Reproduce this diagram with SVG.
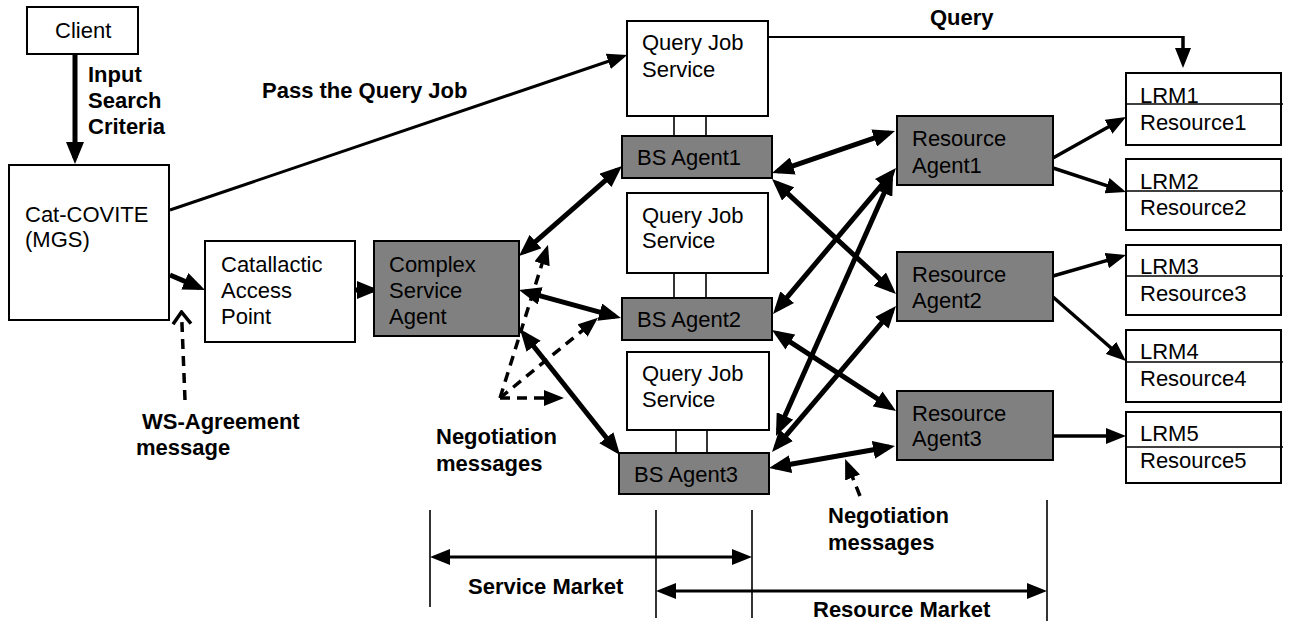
<svg xmlns="http://www.w3.org/2000/svg" width="1297" height="621" viewBox="0 0 1297 621">
<style>
.box{fill:#fff;stroke:#000;stroke-width:2}
.agent{fill:#808080;stroke:#000;stroke-width:2}
.t{font-family:"Liberation Sans",Arial,sans-serif;font-size:22px;fill:#000}
.b{font-family:"Liberation Sans",Arial,sans-serif;font-size:22px;font-weight:bold;fill:#000}
.thin{stroke:#000;stroke-width:1.6;fill:none}
.thick{stroke:#000;stroke-width:5;fill:none;marker-end:url(#big)}
.dbl{stroke:#000;stroke-width:5;fill:none;marker-start:url(#big);marker-end:url(#big)}
.med{stroke:#000;stroke-width:3.5;fill:none;marker-end:url(#med)}
.dash{stroke:#000;stroke-width:3.5;fill:none;stroke-dasharray:10 7;marker-end:url(#med)}
.mkt{stroke:#000;stroke-width:3;fill:none;marker-start:url(#med)}
.mkt2{stroke:#000;stroke-width:3;fill:none;marker-start:url(#med);marker-end:url(#med)}
</style>
<defs>
<marker id="big" markerUnits="userSpaceOnUse" markerWidth="22" markerHeight="18" refX="16" refY="9" orient="auto-start-reverse" viewBox="0 0 22 18"><path d="M0,0 L22,9 L0,18 z" fill="#000"/></marker>
<marker id="med" markerUnits="userSpaceOnUse" markerWidth="20" markerHeight="16" refX="15" refY="8" orient="auto-start-reverse" viewBox="0 0 20 16"><path d="M0,0 L20,8 L0,16 z" fill="#000"/></marker>
<marker id="open" markerUnits="userSpaceOnUse" markerWidth="16" markerHeight="22" refX="14" refY="11" orient="auto" viewBox="0 0 16 22"><path d="M2,2 L14,11 L2,20" fill="none" stroke="#000" stroke-width="3.5"/></marker>
</defs>

<g id="connectors">
<line class="thick" x1="75" y1="54" x2="75" y2="158"/>
<line class="med" x1="170" y1="210" x2="622.5" y2="56.5" style="stroke-width:3"/>
<line class="thick" x1="170" y1="275" x2="199.5" y2="287.6"/>
<line class="thick" x1="355" y1="290" x2="373" y2="290"/>
<polyline class="thin" points="768,37 1183,37" style="stroke-width:2"/>
<line class="med" x1="1183" y1="36" x2="1183" y2="63"/>
<line stroke="#000" stroke-width="3.5" stroke-dasharray="10 7" x1="185" y1="400" x2="181.5" y2="312" marker-end="url(#open)"/>
<line class="dbl" x1="523.5" y1="252.1" x2="617.5" y2="169.9"/>
<line class="dbl" x1="524.8" y1="291.6" x2="615.2" y2="316.4"/>
<line class="dbl" x1="523.7" y1="333.7" x2="616.3" y2="450.3"/>
<line class="dash" x1="500" y1="398" x2="546.5" y2="249.5"/>
<line class="dash" x1="500" y1="398" x2="594.1" y2="321"/>
<line class="dash" x1="500" y1="398" x2="559" y2="398"/>
<line class="dbl" x1="777.7" y1="171.1" x2="889.3" y2="132.9"/>
<line class="dbl" x1="776.4" y1="183.1" x2="891.6" y2="289.9"/>
<line class="dbl" x1="892.1" y1="172.6" x2="776.9" y2="309.4"/>
<line class="dbl" x1="890.6" y1="178.5" x2="778.4" y2="430.5"/>
<line class="dbl" x1="892.1" y1="310.6" x2="775.9" y2="447.4"/>
<line class="dbl" x1="777" y1="333.3" x2="891" y2="407.7"/>
<line class="dbl" x1="774.9" y1="467" x2="889.1" y2="447"/>
<line class="dash" x1="860" y1="496" x2="847" y2="463.6"/>
<line class="med" x1="1053" y1="158" x2="1121.6" y2="119.5"/>
<line class="med" x1="1053" y1="168" x2="1121.2" y2="190.4"/>
<line class="med" x1="1053" y1="276" x2="1121.2" y2="256.4"/>
<line class="med" x1="1053" y1="297" x2="1122.2" y2="357.7"/>
<line class="med" x1="1053" y1="436" x2="1121" y2="436"/>
<line class="thin" x1="674" y1="116" x2="674" y2="136"/>
<line class="thin" x1="706" y1="116" x2="706" y2="136"/>
<line class="thin" x1="674" y1="273" x2="674" y2="298"/>
<line class="thin" x1="706" y1="273" x2="706" y2="298"/>
<line class="thin" x1="676" y1="430" x2="676" y2="453"/>
<line class="thin" x1="707" y1="430" x2="707" y2="453"/>
<line class="thin" x1="430" y1="510" x2="430" y2="607"/>
<line class="thin" x1="656" y1="510" x2="656" y2="618"/>
<line class="thin" x1="752" y1="510" x2="752" y2="618"/>
<line class="thin" x1="1047" y1="500" x2="1047" y2="621"/>
<line class="mkt2" x1="435" y1="557" x2="747" y2="557"/>
<line class="mkt2" x1="661" y1="591" x2="1042" y2="591"/>
</g>

<g id="labels">
<text class="b" x="88" y="82">Input</text>
<text class="b" x="88" y="108">Search</text>
<text class="b" x="88" y="134">Criteria</text>
<text class="b" x="262" y="98">Pass the Query Job</text>
<text class="b" x="930" y="25">Query</text>
<text class="b" x="142" y="429">WS-Agreement</text>
<text class="b" x="136" y="455">message</text>
<text class="b" x="436" y="444">Negotiation</text>
<text class="b" x="436" y="471">messages</text>
<text class="b" x="828" y="523">Negotiation</text>
<text class="b" x="828" y="550">messages</text>
<text class="b" x="468" y="594">Service Market</text>
<text class="b" x="813" y="617">Resource Market</text>
</g>

<g id="client"><rect class="box" x="27" y="7" width="111" height="47"/><text class="t" x="55" y="38">Client</text></g>
<g id="catcovite"><rect class="box" x="9" y="165" width="160" height="155"/><text class="t" x="25" y="222">Cat-COVITE</text><text class="t" x="25" y="247">(MGS)</text></g>
<g id="cap"><rect class="box" x="205" y="241" width="150" height="101"/><text class="t" x="221" y="272">Catallactic</text><text class="t" x="221" y="298">Access</text><text class="t" x="221" y="324">Point</text></g>
<g id="csa"><rect class="agent" x="374" y="241" width="145" height="95"/><text class="t" x="389" y="272">Complex</text><text class="t" x="389" y="298">Service</text><text class="t" x="389" y="324">Agent</text></g>

<g id="qjs1"><rect class="box" x="627" y="21" width="141" height="95"/><text class="t" x="642" y="50">Query Job</text><text class="t" x="642" y="77">Service</text></g>
<g id="bs1"><rect class="agent" x="622" y="136" width="150" height="42"/><text class="t" x="637" y="165">BS Agent1</text></g>
<g id="qjs2"><rect class="box" x="627" y="193" width="141" height="80"/><text class="t" x="642" y="223">Query Job</text><text class="t" x="642" y="248">Service</text></g>
<g id="bs2"><rect class="agent" x="622" y="298" width="150" height="42"/><text class="t" x="637" y="327">BS Agent2</text></g>
<g id="qjs3"><rect class="box" x="627" y="352" width="142" height="78"/><text class="t" x="642" y="381">Query Job</text><text class="t" x="642" y="407">Service</text></g>
<g id="bs3"><rect class="agent" x="619" y="453" width="150" height="41"/><text class="t" x="634" y="482">BS Agent3</text></g>

<g id="ra1"><rect class="agent" x="897" y="116" width="156" height="69"/><text class="t" x="912" y="146">Resource</text><text class="t" x="912" y="173">Agent1</text></g>
<g id="ra2"><rect class="agent" x="897" y="252" width="156" height="69"/><text class="t" x="912" y="282">Resource</text><text class="t" x="912" y="308">Agent2</text></g>
<g id="ra3"><rect class="agent" x="897" y="391" width="156" height="69"/><text class="t" x="912" y="421">Resource</text><text class="t" x="912" y="446">Agent3</text></g>

<g id="lrm1"><rect class="box" x="1126" y="73" width="155" height="72"/><line class="thin" x1="1126" y1="104" x2="1283" y2="104"/><text class="t" x="1140" y="103">LRM1</text><text class="t" x="1140" y="130">Resource1</text></g>
<g id="lrm2"><rect class="box" x="1126" y="159" width="155" height="71"/><line class="thin" x1="1126" y1="191" x2="1283" y2="191"/><text class="t" x="1140" y="189">LRM2</text><text class="t" x="1140" y="215">Resource2</text></g>
<g id="lrm3"><rect class="box" x="1126" y="245" width="155" height="70"/><line class="thin" x1="1126" y1="276" x2="1283" y2="276"/><text class="t" x="1140" y="274">LRM3</text><text class="t" x="1140" y="301">Resource3</text></g>
<g id="lrm4"><rect class="box" x="1126" y="330" width="155" height="72"/><line class="thin" x1="1126" y1="362" x2="1283" y2="362"/><text class="t" x="1140" y="359">LRM4</text><text class="t" x="1140" y="386">Resource4</text></g>
<g id="lrm5"><rect class="box" x="1126" y="412" width="155" height="71"/><line class="thin" x1="1126" y1="447" x2="1283" y2="447"/><text class="t" x="1140" y="441">LRM5</text><text class="t" x="1140" y="468">Resource5</text></g>
</svg>
